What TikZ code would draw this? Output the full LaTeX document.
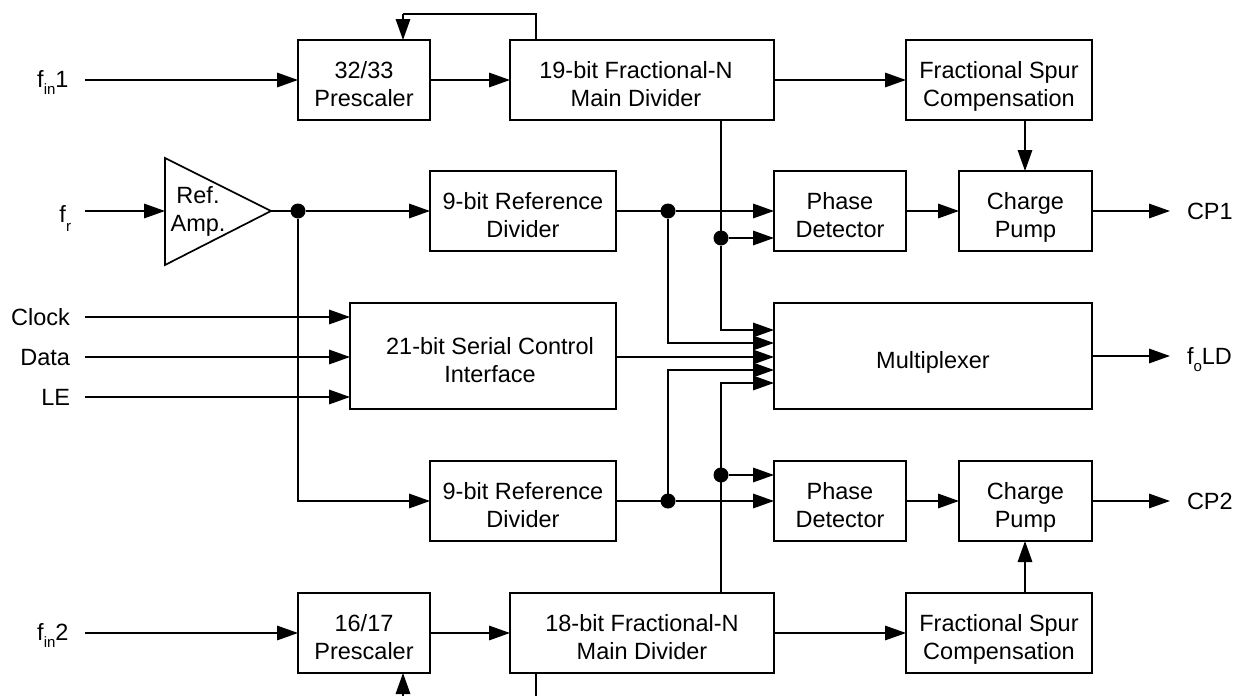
\documentclass[tikz,border=0pt]{standalone}
\usepackage{fontspec}
\setmainfont{Liberation Sans}
\usetikzlibrary{arrows.meta}
\newcommand{\subtxt}[2][0.33em]{\raisebox{-#1}{\fontsize{15}{16}\selectfont #2}}
\newcommand{\tl}[2]{\rule{0pt}{30pt}#1\\#2\rule[-4.4pt]{0pt}{4.4pt}}
\tikzset{
  x=1pt,y=-1pt,
  every node/.style={font=\fontsize{23.5}{28}\selectfont,text=black},
  block/.style={draw=black,line width=1.7pt,fill=white,align=center,inner sep=0pt,outer sep=0pt,anchor=center},
  wide/.style={block,minimum width=186pt,minimum height=80pt},
  small/.style={block,minimum width=132pt,minimum height=80pt},
  pump/.style={block,minimum width=133pt,minimum height=80pt},
  main/.style={block,minimum width=264pt,minimum height=80pt},
  tall/.style={block,minimum height=106pt},
  lbl/.style={inner sep=0pt,outer sep=0pt},
  dot/.style={circle,fill=black,draw=none,minimum size=15pt,inner sep=0pt,outer sep=0pt},
  wire/.style={line width=1.6pt,draw=black},
  sig/.style={wire,-{Triangle[length=21pt,width=14.5pt]}}
}
\begin{document}
\begin{tikzpicture}
\useasboundingbox (0,0) rectangle (1235,696);
% blocks
\node[small] (presA) at (364,80) {\tl{32/33}{Prescaler}};
\node[main] (mainA) at (642,80) {\tl{19-bit Fractional-N\kern12pt}{Main Divider\kern12pt}};
\node[wide] (spurA) at (999,80) {\tl{Fractional Spur}{Compensation}};
\node[wide] (refA) at (523,211) {\tl{9-bit Reference}{Divider}};
\node[small] (pdA) at (840,211) {\tl{Phase}{Detector}};
\node[pump] (cpA) at (1025.5,211) {\tl{Charge}{Pump}};
\node[tall,minimum width=266pt] (ser) at (483,356) {\tl{\kern14pt 21-bit Serial Control}{\kern14pt Interface}};
\node[tall,minimum width=318pt] (mux) at (933,356) {\rule{0pt}{30pt}Multiplexer\rule[-4.4pt]{0pt}{4.4pt}};
\node[wide] (refB) at (523,501) {\tl{9-bit Reference}{Divider}};
\node[small] (pdB) at (840,501) {\tl{Phase}{Detector}};
\node[pump] (cpB) at (1025.5,501) {\tl{Charge}{Pump}};
\node[small] (presB) at (364,633) {\tl{16/17}{Prescaler}};
\node[main] (mainB) at (642,633) {\tl{18-bit Fractional-N}{Main Divider}};
\node[wide] (spurB) at (999,633) {\tl{Fractional Spur}{Compensation}};
% amplifier
\coordinate (ampT) at (165,158);
\coordinate (ampB) at (165,265);
\coordinate (ampO) at (271,211);
\coordinate (ampI) at (165,211);
\draw[line width=1.7pt,line join=miter] (ampT) -- (ampO) -- (ampB) -- cycle;
\node[align=center,inner sep=0pt] (amp) at (198,211) {Ref.\\Amp.};
% labels
\node[lbl,anchor=base east] (lfa) at (68.5,87) {f\subtxt{in}1};
\node[lbl,anchor=base east] (lfr) at (71,222) {f\subtxt[0.4em]{r}};
\node[lbl,anchor=base east] (lck) at (70,325) {Clock};
\node[lbl,anchor=base east] (ldt) at (70,365) {Data};
\node[lbl,anchor=base east] (lle) at (70,405) {LE};
\node[lbl,anchor=base east] (lfb) at (68.5,640) {f\subtxt{in}2};
\node[lbl,anchor=base west] (lca) at (1187,219) {CP1};
\node[lbl,anchor=base west] (lld) at (1187,364) {f\subtxt{o}LD};
\node[lbl,anchor=base west] (lcb) at (1187,509) {CP2};
% free ends
\coordinate (sfa) at (85,80);
\coordinate (sfr) at (85,211);
\coordinate (sck) at (85,317);
\coordinate (sdt) at (85,357);
\coordinate (sle) at (85,397);
\coordinate (sfb) at (85,633);
\coordinate (eca) at (1170,211);
\coordinate (eld) at (1170,356);
\coordinate (ecb) at (1170,501);
\coordinate (bot) at (403,696);
\coordinate (bot2) at (536,696);
\coordinate (topL) at (403,14);
\coordinate (topR) at (536,14);
\coordinate (cpx) at (1025,0);
% junctions
\node[dot] (jAmp) at (298,211) {};
\node[dot] (jRa) at (668,211) {};
\node[dot] (jMa) at (721,238) {};
\node[dot] (jRb) at (668,501) {};
\node[dot] (jMb) at (721,475) {};
% mux pins
\coordinate (m1) at (774,330);
\coordinate (m2) at (774,343);
\coordinate (m3) at (774,357);
\coordinate (m4) at (774,370);
\coordinate (m5) at (774,383);
% connectors
\draw[sig] (sfa) -- (presA.west);
\draw[sig] (presA.east) -- (mainA.west);
\draw[sig] (mainA.east) -- (spurA.west);
\draw[sig] (spurA.south -| cpx) -- (cpA.north -| cpx);
\draw[wire] (mainA.north -| topR) -- (topR) -- (topL);
\draw[sig] (topL) -- (presA.north -| topL);
\draw[sig] (sfr) -- (ampI);
\draw[wire] (ampO) -- (jAmp);
\draw[sig] (jAmp) -- (refA.west);
\draw[sig] (jAmp) |- (refB.west);
\draw[wire] (refA.east) -- (jRa);
\draw[sig] (jRa) -- (pdA.west);
\draw[sig] (jMa) -- (pdA.west |- jMa);
\draw[sig] (pdA.east) -- (cpA.west);
\draw[sig] (cpA.east) -- (eca);
\draw[sig] (sck) -- (ser.west |- sck);
\draw[sig] (sdt) -- (ser.west |- sdt);
\draw[sig] (sle) -- (ser.west |- sle);
\draw[wire] (mainA.south -| jMa) -- (jMa);
\draw[sig] (jMa) |- (m1);
\draw[sig] (jRa) |- (m2);
\draw[sig] (ser.east |- m3) -- (m3);
\draw[sig] (jRb) |- (m4);
\draw[sig] (mainB.north -| jMb) |- (m5);
\draw[sig] (mux.east) -- (eld);
\draw[wire] (refB.east) -- (jRb);
\draw[sig] (jRb) -- (pdB.west);
\draw[sig] (jMb) -- (pdB.west |- jMb);
\draw[sig] (pdB.east) -- (cpB.west);
\draw[sig] (cpB.east) -- (ecb);
\draw[sig] (spurB.north -| cpx) -- (cpB.south -| cpx);
\draw[sig] (sfb) -- (presB.west);
\draw[sig] (presB.east) -- (mainB.west);
\draw[sig] (mainB.east) -- (spurB.west);
\draw[sig] (bot) -- (presB.south -| bot);
\draw[wire] (mainB.south -| bot2) -- (bot2);
\end{tikzpicture}
\end{document}
